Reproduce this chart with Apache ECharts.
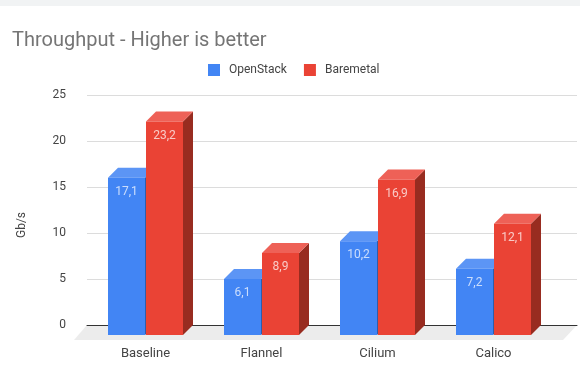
<!DOCTYPE html>
<html>
<head>
<meta charset="utf-8">
<style>html,body{margin:0;padding:0;background:#fff}#chart{width:580px;height:376px}</style>
<script src="https://cdn.jsdelivr.net/npm/echarts@6/dist/echarts.min.js"></script>
</head>
<body>
<div id="chart"></div>
<script>
const titleText = 'Throughput - Higher is better';
const axisName = 'Gb/s';
const categories = ['Baseline', 'Flannel', 'Cilium', 'Calico'];
const openStack = [17.1, 6.1, 10.2, 7.2];
const baremetal = [23.2, 8.9, 16.9, 12.1];
const yTicks = [0, 5, 10, 15, 20, 25];

const FONT = 'Roboto, Arial, sans-serif';
const BAR_W = 37, DEPTH = 10;

// Draws one extruded bar: side face, top face, front face and its value label.
function bar3d(side, shades) {
  return function (params, api) {
    const i = api.value(0);
    const v = api.value(1);
    const cx = api.coord([i, 0])[0];
    const base = api.coord([i, 0])[1];
    const top = api.coord([i, v])[1];
    const x0 = side < 0 ? cx - BAR_W - 0.5 : cx + 0.5;
    const x1 = x0 + BAR_W;
    return {
      type: 'group',
      children: [
        { type: 'polygon', shape: { points: [[x1, top], [x1 + DEPTH, top - DEPTH], [x1 + DEPTH, base - DEPTH], [x1, base]] }, style: { fill: shades.side } },
        { type: 'polygon', shape: { points: [[x0, top], [x0 + DEPTH, top - DEPTH], [x1 + DEPTH, top - DEPTH], [x1, top]] }, style: { fill: shades.top } },
        { type: 'rect', shape: { x: x0, y: top, width: BAR_W, height: base - top }, style: { fill: shades.front } },
        { type: 'text', x: x0 + BAR_W / 2, y: top + 14, style: { text: String(v).replace('.', ','), fill: 'rgba(255,255,255,0.72)', font: '12px ' + FONT, textAlign: 'center', textVerticalAlign: 'middle' } }
      ]
    };
  };
}

// Grey floor plane that the bars stand on.
function floor(params) {
  const c = params.coordSys;
  const y = c.y + c.height;
  return {
    type: 'polygon',
    shape: { points: [[c.x, y], [c.x + c.width, y], [c.x + c.width - 14, y + 15], [c.x - 13, y + 15]] },
    style: { fill: '#ececec' }
  };
}

const chart = echarts.init(document.getElementById('chart'), null, { renderer: 'canvas' });
chart.setOption({
  animation: false,
  backgroundColor: '#ffffff',
  title: {
    text: titleText, left: 7, top: 26,
    textStyle: { fontFamily: FONT, fontSize: 20, fontWeight: 'normal', color: '#757575' }
  },
  legend: {
    data: ['OpenStack', 'Baremetal'], left: 203, top: 59, icon: 'rect',
    itemWidth: 12, itemHeight: 12, itemGap: 17,
    textStyle: { fontFamily: FONT, fontSize: 12, letterSpacing: 0.3, color: '#444', padding: [0, 0, 0, 4] }
  },
  graphic: [{ type: 'rect', shape: { x: 0, y: 0, width: 580, height: 6 }, style: { fill: '#f1f3f4' }, silent: true }],
  grid: [
    { left: 87, top: 95, width: 490, height: 230 },
    { left: 87.5, top: 105, width: 464, height: 230 }
  ],
  xAxis: [
    { gridIndex: 0, type: 'category', data: categories, axisTick: { show: false }, axisLabel: { show: false }, axisLine: { lineStyle: { color: '#333', width: 1 } }, z: 1 },
    { gridIndex: 1, type: 'category', data: categories, axisTick: { show: false }, axisLine: { show: false }, axisLabel: { margin: 12, fontFamily: FONT, fontSize: 13, color: '#444' } }
  ],
  yAxis: [
    { gridIndex: 0, type: 'value', min: yTicks[0], max: yTicks[yTicks.length - 1], interval: yTicks[1] - yTicks[0],
      name: axisName, nameLocation: 'middle', nameRotate: 90, nameGap: 59,
      nameTextStyle: { fontFamily: FONT, fontSize: 12, color: '#444', padding: [0, 30, 0, 0] },
      axisLine: { show: false }, axisTick: { show: false },
      axisLabel: { margin: 21, fontFamily: FONT, fontSize: 12, color: '#444', padding: [2, 0, 0, 0] },
      splitLine: { lineStyle: { color: '#dcdcdc', width: 1 } } },
    { gridIndex: 1, type: 'value', min: yTicks[0], max: yTicks[yTicks.length - 1], show: false, splitLine: { show: false } }
  ],
  series: [
    { type: 'custom', name: 'floor', xAxisIndex: 0, yAxisIndex: 0, renderItem: floor, data: [[0, 0]], silent: true, z: 1 },
    { type: 'custom', name: 'OpenStack', xAxisIndex: 1, yAxisIndex: 1, z: 3,
      itemStyle: { color: '#4285f4' },
      renderItem: bar3d(-1, { front: '#4285f4', top: '#5c95f5', side: '#2e5dab' }),
      encode: { x: 0, y: 1 }, data: openStack.map((v, i) => [i, v]) },
    { type: 'custom', name: 'Baremetal', xAxisIndex: 1, yAxisIndex: 1, z: 4,
      itemStyle: { color: '#ea4335' },
      renderItem: bar3d(1, { front: '#ea4335', top: '#ee6157', side: '#982c20' }),
      encode: { x: 0, y: 1 }, data: baremetal.map((v, i) => [i, v]) }
  ]
});
</script>
</body>
</html>
